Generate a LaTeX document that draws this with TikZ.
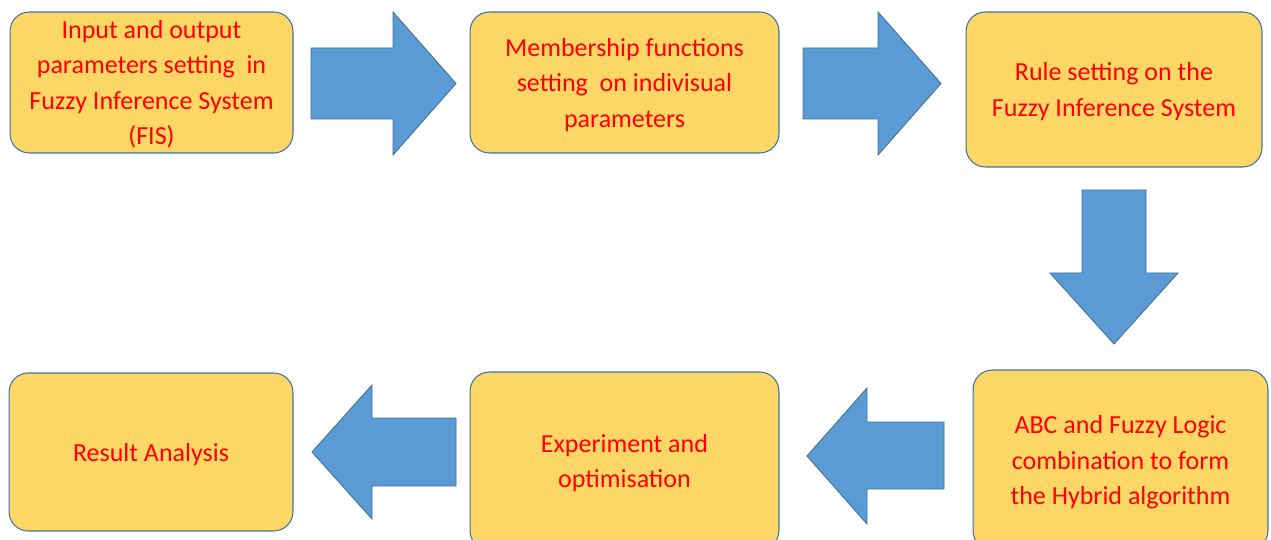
\documentclass[tikz,border=0pt]{standalone}
\usepackage{fontspec}
\setmainfont{Carlito}
\definecolor{BoxGold}  {RGB}{253, 215, 102}
\definecolor{EdgeBlue} {RGB}{65,  113, 156}
\definecolor{ArrowBlue}{RGB}{91,  155, 213}
\usetikzlibrary{positioning}

\begin{document}
\begin{tikzpicture}[
  x=0.02cm, y=-0.02cm,
  font=\fontsize{14.8}{20.2}\selectfont,
  stage/.style={
    draw=EdgeBlue, fill=BoxGold,
    line width=0.6pt, rounded corners=11pt,
    align=center, text=red, inner sep=0pt,
    text depth=0pt
  },
  fat/.style={
    draw=EdgeBlue, fill=ArrowBlue,
    line width=0.5pt, line join=miter}
]
\useasboundingbox (0,0) rectangle (1271,540);

% top row
\node[stage, minimum width=5.66cm, minimum height=2.82cm]
  (fis) at (151.5,82.5)
  {Input and output\\parameters setting\ \ in\\Fuzzy Inference System\\(FIS)};
\node[stage, minimum width=6.18cm, minimum height=2.82cm]
  (member) at (624.5,82.5)
  {Membership functions\\setting\ \ on indivisual\\parameters};
\node[stage, minimum width=5.92cm, minimum height=3.10cm]
  (rules) at (1114,89.5)
  {Rule setting on the\\Fuzzy Inference System};

% bottom row
\node[stage, minimum width=5.90cm, minimum height=3.60cm]
  (hybrid) at (1120.5,460)
  {ABC and Fuzzy Logic\\combination to form\\the Hybrid algorithm};
\node[stage, minimum width=6.18cm, minimum height=3.56cm]
  (expt) at (624.5,461)
  {Experiment and\\optimisation};
\node[stage, minimum width=5.68cm, minimum height=3.16cm]
  (result) at (151,452)
  {Result Analysis};

% block arrows between the stages
\draw[fat] (311,48) -- (393,48) -- (393,12) -- (456,83.5)
  -- (393,155) -- (393,119) -- (311,119) -- cycle;
\draw[fat] (803,48) -- (878,48) -- (878,12) -- (941,83.5)
  -- (878,155) -- (878,119) -- (803,119) -- cycle;
\draw[fat] (1082,190) -- (1146,190) -- (1146,273) -- (1178,273)
  -- (1114,344) -- (1050,273) -- (1082,273) -- cycle;
\draw[fat] (944,422) -- (867,422) -- (867,388) -- (807,456)
  -- (867,524) -- (867,489) -- (944,489) -- cycle;
\draw[fat] (456,418) -- (372,418) -- (372,385) -- (312,452)
  -- (372,519) -- (372,486) -- (456,486) -- cycle;

\end{tikzpicture}
\end{document}
